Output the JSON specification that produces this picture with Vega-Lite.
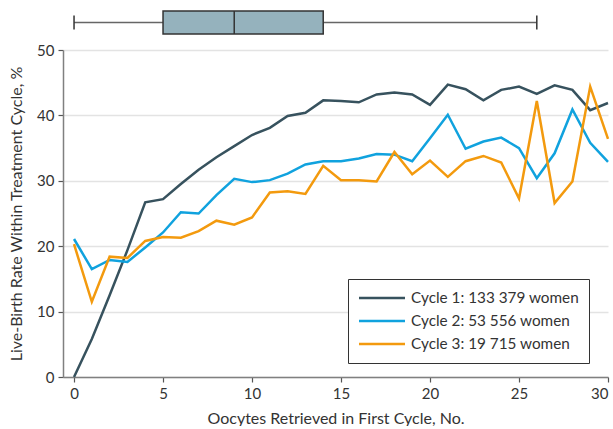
{
  "$schema": "https://vega.github.io/schema/vega-lite/v6.json",
  "padding": {"left": 8, "top": 10, "right": 0, "bottom": 0},
  "spacing": 8,
  "config": {
    "font": "Lato",
    "view": {"stroke": null},
    "axis": {
      "labelFont": "Lato", "labelFontSize": 15, "labelColor": "#333333",
      "titleFont": "Lato", "titleFontSize": 16, "titleFontWeight": "normal", "titleColor": "#333333",
      "domainColor": "#808080", "domainWidth": 1.5, "tickColor": "#555555", "tickWidth": 1.2, "tickSize": 5,
      "gridColor": "#e3e3e3", "gridWidth": 1.5
    }
  },
  "datasets": {
    "box": [{"min": 0, "q1": 5, "median": 9, "q3": 14, "max": 26}],
    "rates": [
      {"oocytes": 0, "rate": 0.0, "cycle": "Cycle 1: 133 379 women"},
      {"oocytes": 1, "rate": 5.8, "cycle": "Cycle 1: 133 379 women"},
      {"oocytes": 2, "rate": 12.5, "cycle": "Cycle 1: 133 379 women"},
      {"oocytes": 3, "rate": 19.4, "cycle": "Cycle 1: 133 379 women"},
      {"oocytes": 4, "rate": 26.7, "cycle": "Cycle 1: 133 379 women"},
      {"oocytes": 5, "rate": 27.2, "cycle": "Cycle 1: 133 379 women"},
      {"oocytes": 6, "rate": 29.5, "cycle": "Cycle 1: 133 379 women"},
      {"oocytes": 7, "rate": 31.7, "cycle": "Cycle 1: 133 379 women"},
      {"oocytes": 8, "rate": 33.6, "cycle": "Cycle 1: 133 379 women"},
      {"oocytes": 9, "rate": 35.3, "cycle": "Cycle 1: 133 379 women"},
      {"oocytes": 10, "rate": 37.0, "cycle": "Cycle 1: 133 379 women"},
      {"oocytes": 11, "rate": 38.1, "cycle": "Cycle 1: 133 379 women"},
      {"oocytes": 12, "rate": 39.9, "cycle": "Cycle 1: 133 379 women"},
      {"oocytes": 13, "rate": 40.4, "cycle": "Cycle 1: 133 379 women"},
      {"oocytes": 14, "rate": 42.3, "cycle": "Cycle 1: 133 379 women"},
      {"oocytes": 15, "rate": 42.2, "cycle": "Cycle 1: 133 379 women"},
      {"oocytes": 16, "rate": 42.0, "cycle": "Cycle 1: 133 379 women"},
      {"oocytes": 17, "rate": 43.2, "cycle": "Cycle 1: 133 379 women"},
      {"oocytes": 18, "rate": 43.5, "cycle": "Cycle 1: 133 379 women"},
      {"oocytes": 19, "rate": 43.2, "cycle": "Cycle 1: 133 379 women"},
      {"oocytes": 20, "rate": 41.6, "cycle": "Cycle 1: 133 379 women"},
      {"oocytes": 21, "rate": 44.7, "cycle": "Cycle 1: 133 379 women"},
      {"oocytes": 22, "rate": 44.0, "cycle": "Cycle 1: 133 379 women"},
      {"oocytes": 23, "rate": 42.3, "cycle": "Cycle 1: 133 379 women"},
      {"oocytes": 24, "rate": 43.9, "cycle": "Cycle 1: 133 379 women"},
      {"oocytes": 25, "rate": 44.4, "cycle": "Cycle 1: 133 379 women"},
      {"oocytes": 26, "rate": 43.3, "cycle": "Cycle 1: 133 379 women"},
      {"oocytes": 27, "rate": 44.6, "cycle": "Cycle 1: 133 379 women"},
      {"oocytes": 28, "rate": 43.9, "cycle": "Cycle 1: 133 379 women"},
      {"oocytes": 29, "rate": 40.8, "cycle": "Cycle 1: 133 379 women"},
      {"oocytes": 30, "rate": 41.9, "cycle": "Cycle 1: 133 379 women"},
      {"oocytes": 0, "rate": 21.1, "cycle": "Cycle 2: 53 556 women"},
      {"oocytes": 1, "rate": 16.5, "cycle": "Cycle 2: 53 556 women"},
      {"oocytes": 2, "rate": 17.9, "cycle": "Cycle 2: 53 556 women"},
      {"oocytes": 3, "rate": 17.6, "cycle": "Cycle 2: 53 556 women"},
      {"oocytes": 4, "rate": 19.8, "cycle": "Cycle 2: 53 556 women"},
      {"oocytes": 5, "rate": 22.1, "cycle": "Cycle 2: 53 556 women"},
      {"oocytes": 6, "rate": 25.2, "cycle": "Cycle 2: 53 556 women"},
      {"oocytes": 7, "rate": 25.0, "cycle": "Cycle 2: 53 556 women"},
      {"oocytes": 8, "rate": 27.8, "cycle": "Cycle 2: 53 556 women"},
      {"oocytes": 9, "rate": 30.3, "cycle": "Cycle 2: 53 556 women"},
      {"oocytes": 10, "rate": 29.8, "cycle": "Cycle 2: 53 556 women"},
      {"oocytes": 11, "rate": 30.1, "cycle": "Cycle 2: 53 556 women"},
      {"oocytes": 12, "rate": 31.1, "cycle": "Cycle 2: 53 556 women"},
      {"oocytes": 13, "rate": 32.5, "cycle": "Cycle 2: 53 556 women"},
      {"oocytes": 14, "rate": 33.0, "cycle": "Cycle 2: 53 556 women"},
      {"oocytes": 15, "rate": 33.0, "cycle": "Cycle 2: 53 556 women"},
      {"oocytes": 16, "rate": 33.4, "cycle": "Cycle 2: 53 556 women"},
      {"oocytes": 17, "rate": 34.1, "cycle": "Cycle 2: 53 556 women"},
      {"oocytes": 18, "rate": 34.0, "cycle": "Cycle 2: 53 556 women"},
      {"oocytes": 19, "rate": 33.0, "cycle": "Cycle 2: 53 556 women"},
      {"oocytes": 20, "rate": 36.5, "cycle": "Cycle 2: 53 556 women"},
      {"oocytes": 21, "rate": 40.1, "cycle": "Cycle 2: 53 556 women"},
      {"oocytes": 22, "rate": 34.9, "cycle": "Cycle 2: 53 556 women"},
      {"oocytes": 23, "rate": 36.0, "cycle": "Cycle 2: 53 556 women"},
      {"oocytes": 24, "rate": 36.6, "cycle": "Cycle 2: 53 556 women"},
      {"oocytes": 25, "rate": 35.0, "cycle": "Cycle 2: 53 556 women"},
      {"oocytes": 26, "rate": 30.4, "cycle": "Cycle 2: 53 556 women"},
      {"oocytes": 27, "rate": 34.2, "cycle": "Cycle 2: 53 556 women"},
      {"oocytes": 28, "rate": 40.9, "cycle": "Cycle 2: 53 556 women"},
      {"oocytes": 29, "rate": 35.8, "cycle": "Cycle 2: 53 556 women"},
      {"oocytes": 30, "rate": 32.9, "cycle": "Cycle 2: 53 556 women"},
      {"oocytes": 0, "rate": 20.3, "cycle": "Cycle 3: 19 715 women"},
      {"oocytes": 1, "rate": 11.5, "cycle": "Cycle 3: 19 715 women"},
      {"oocytes": 2, "rate": 18.4, "cycle": "Cycle 3: 19 715 women"},
      {"oocytes": 3, "rate": 18.2, "cycle": "Cycle 3: 19 715 women"},
      {"oocytes": 4, "rate": 20.8, "cycle": "Cycle 3: 19 715 women"},
      {"oocytes": 5, "rate": 21.4, "cycle": "Cycle 3: 19 715 women"},
      {"oocytes": 6, "rate": 21.3, "cycle": "Cycle 3: 19 715 women"},
      {"oocytes": 7, "rate": 22.3, "cycle": "Cycle 3: 19 715 women"},
      {"oocytes": 8, "rate": 23.9, "cycle": "Cycle 3: 19 715 women"},
      {"oocytes": 9, "rate": 23.3, "cycle": "Cycle 3: 19 715 women"},
      {"oocytes": 10, "rate": 24.4, "cycle": "Cycle 3: 19 715 women"},
      {"oocytes": 11, "rate": 28.2, "cycle": "Cycle 3: 19 715 women"},
      {"oocytes": 12, "rate": 28.4, "cycle": "Cycle 3: 19 715 women"},
      {"oocytes": 13, "rate": 28.0, "cycle": "Cycle 3: 19 715 women"},
      {"oocytes": 14, "rate": 32.3, "cycle": "Cycle 3: 19 715 women"},
      {"oocytes": 15, "rate": 30.1, "cycle": "Cycle 3: 19 715 women"},
      {"oocytes": 16, "rate": 30.1, "cycle": "Cycle 3: 19 715 women"},
      {"oocytes": 17, "rate": 29.9, "cycle": "Cycle 3: 19 715 women"},
      {"oocytes": 18, "rate": 34.4, "cycle": "Cycle 3: 19 715 women"},
      {"oocytes": 19, "rate": 31.0, "cycle": "Cycle 3: 19 715 women"},
      {"oocytes": 20, "rate": 33.1, "cycle": "Cycle 3: 19 715 women"},
      {"oocytes": 21, "rate": 30.6, "cycle": "Cycle 3: 19 715 women"},
      {"oocytes": 22, "rate": 33.0, "cycle": "Cycle 3: 19 715 women"},
      {"oocytes": 23, "rate": 33.8, "cycle": "Cycle 3: 19 715 women"},
      {"oocytes": 24, "rate": 32.8, "cycle": "Cycle 3: 19 715 women"},
      {"oocytes": 25, "rate": 27.3, "cycle": "Cycle 3: 19 715 women"},
      {"oocytes": 26, "rate": 42.2, "cycle": "Cycle 3: 19 715 women"},
      {"oocytes": 27, "rate": 26.6, "cycle": "Cycle 3: 19 715 women"},
      {"oocytes": 28, "rate": 29.9, "cycle": "Cycle 3: 19 715 women"},
      {"oocytes": 29, "rate": 44.4, "cycle": "Cycle 3: 19 715 women"},
      {"oocytes": 30, "rate": 36.4, "cycle": "Cycle 3: 19 715 women"}
    ]
  },
  "vconcat": [
    {
      "width": 545,
      "height": 23,
      "data": {"name": "box"},
      "layer": [
        {
          "mark": {"type": "rule", "color": "#666666", "strokeWidth": 1.5},
          "encoding": {
            "x": {"field": "min", "type": "quantitative", "scale": {"domain": [-0.62, 30], "nice": false, "zero": false}, "axis": null},
            "x2": {"field": "max"},
            "y": {"datum": 0.5, "type": "quantitative", "scale": {"domain": [0, 1]}, "axis": null}
          }
        },
        {
          "mark": {"type": "rule", "color": "#333333", "strokeWidth": 1.5},
          "encoding": {
            "x": {"field": "min", "type": "quantitative", "scale": {"domain": [-0.62, 30], "nice": false, "zero": false}, "axis": null},
            "y": {"datum": 0.2, "type": "quantitative", "scale": {"domain": [0, 1]}, "axis": null},
            "y2": {"datum": 0.8}
          }
        },
        {
          "mark": {"type": "rule", "color": "#333333", "strokeWidth": 1.5},
          "encoding": {
            "x": {"field": "max", "type": "quantitative", "scale": {"domain": [-0.62, 30], "nice": false, "zero": false}, "axis": null},
            "y": {"datum": 0.2, "type": "quantitative", "scale": {"domain": [0, 1]}, "axis": null},
            "y2": {"datum": 0.8}
          }
        },
        {
          "mark": {"type": "rect", "fill": "#95b2bd", "stroke": "#333333", "strokeWidth": 1.5},
          "encoding": {
            "x": {"field": "q1", "type": "quantitative", "scale": {"domain": [-0.62, 30], "nice": false, "zero": false}, "axis": null},
            "x2": {"field": "q3"},
            "y": {"datum": 0, "type": "quantitative", "scale": {"domain": [0, 1]}, "axis": null},
            "y2": {"datum": 1}
          }
        },
        {
          "mark": {"type": "rule", "color": "#333333", "strokeWidth": 1.5},
          "encoding": {
            "x": {"field": "median", "type": "quantitative", "scale": {"domain": [-0.62, 30], "nice": false, "zero": false}, "axis": null},
            "y": {"datum": 0, "type": "quantitative", "scale": {"domain": [0, 1]}, "axis": null},
            "y2": {"datum": 1}
          }
        }
      ]
    },
    {
      "width": 545,
      "height": 327,
      "data": {"name": "rates"},
      "mark": {"type": "line", "strokeWidth": 2.5},
      "encoding": {
        "x": {
          "field": "oocytes", "type": "quantitative",
          "scale": {"domain": [-0.62, 30], "nice": false, "zero": false},
          "axis": {"title": "Oocytes Retrieved in First Cycle, No.", "values": [0, 5, 10, 15, 20, 25, 30], "grid": false, "labelPadding": 4, "titlePadding": 9}
        },
        "y": {
          "field": "rate", "type": "quantitative",
          "scale": {"domain": [0, 50], "nice": false},
          "axis": {"title": "Live-Birth Rate Within Treatment Cycle, %", "values": [0, 10, 20, 30, 40, 50], "grid": true, "labelPadding": 4, "titlePadding": 12}
        },
        "color": {
          "field": "cycle", "type": "nominal",
          "scale": {"domain": ["Cycle 1: 133 379 women", "Cycle 2: 53 556 women", "Cycle 3: 19 715 women"], "range": ["#37525e", "#10a2de", "#f39a0e"]},
          "legend": {
            "title": null, "orient": "none", "legendX": 285, "legendY": 268,
            "symbolType": "M-3,0H3", "symbolSize": 235, "symbolStrokeWidth": 2.5, "symbolOffset": 15,
            "labelFont": "Lato", "labelFontSize": 15.3, "labelColor": "#333333", "labelOffset": 20, "labelLimit": 400,
            "strokeColor": "#333333", "padding": 10, "rowPadding": 5, "fillColor": "#ffffff"
          }
        }
      }
    }
  ]
}
